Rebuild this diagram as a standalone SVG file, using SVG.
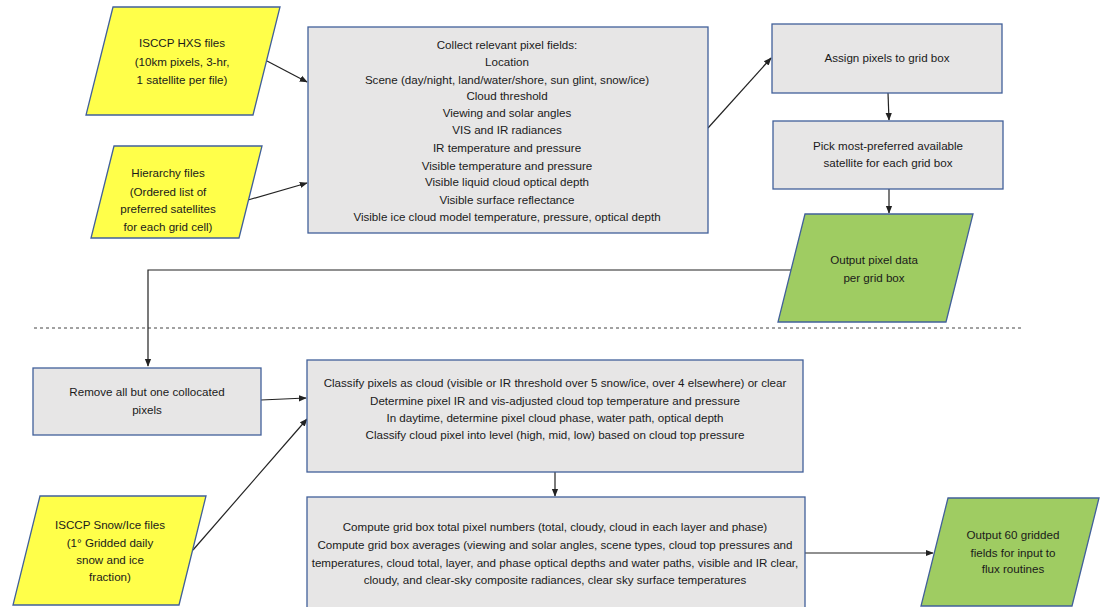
<svg xmlns="http://www.w3.org/2000/svg" width="1102" height="607" viewBox="0 0 1102 607">
<defs>
<style>
.box{fill:#e7e6e6;stroke:#41609a;stroke-width:1.3}
.in{fill:#ffff4a;stroke:#41609a;stroke-width:1.3}
.out{fill:#9fcc62;stroke:#41609a;stroke-width:1.3}
.t{font-family:"Liberation Sans",Arial,sans-serif;font-size:11.6px;fill:#1a1a1a;text-anchor:middle}
.c{fill:none;stroke:#222;stroke-width:1.2}
</style>
<marker id="ah" viewBox="0 0 10 10" refX="9" refY="5" markerWidth="8" markerHeight="8" markerUnits="userSpaceOnUse" orient="auto">
<path d="M0,1 L10,5 L0,9 z" fill="#222"/>
</marker>
</defs>
<rect width="1102" height="607" fill="#fff"/>
<line x1="34" y1="328" x2="1022" y2="328" stroke="#444" stroke-width="1" stroke-dasharray="3,3"/>
<g id="connectors">
<line class="c" x1="267" y1="61" x2="307" y2="82" marker-end="url(#ah)"/>
<line class="c" x1="248" y1="200" x2="307" y2="183" marker-end="url(#ah)"/>
<line class="c" x1="708" y1="128" x2="771" y2="58" marker-end="url(#ah)"/>
<line class="c" x1="888" y1="93" x2="889" y2="120" marker-end="url(#ah)"/>
<line class="c" x1="889" y1="189" x2="889" y2="213" marker-end="url(#ah)"/>
<polyline class="c" points="791,270 148,270 148,366" marker-end="url(#ah)"/>
<line class="c" x1="261" y1="400" x2="306" y2="398" marker-end="url(#ah)"/>
<line class="c" x1="193" y1="550" x2="307" y2="419" marker-end="url(#ah)"/>
<line class="c" x1="555" y1="472" x2="555" y2="496" marker-end="url(#ah)"/>
<line class="c" x1="805" y1="553" x2="933" y2="553" marker-end="url(#ah)"/>
</g>
<g id="hxs">
<polygon class="in" points="113,7 280,7 253,115 86,115"/>
<text class="t" x="182" y="47">ISCCP HXS files</text>
<text class="t" x="182" y="66">(10km pixels, 3-hr,</text>
<text class="t" x="182" y="84">1 satellite per file)</text>
</g>
<g id="hierarchy">
<polygon class="in" points="114,146 262,146 239,238 91,238"/>
<text class="t" x="168" y="177">Hierarchy files</text>
<text class="t" x="168" y="196">(Ordered list of</text>
<text class="t" x="168" y="213">preferred satellites</text>
<text class="t" x="168" y="231">for each grid cell)</text>
</g>
<g id="collect">
<rect class="box" x="308" y="27" width="400" height="206"/>
<text class="t" x="507" y="49">Collect relevant pixel fields:</text>
<text class="t" x="507" y="66">Location</text>
<text class="t" x="507" y="84">Scene (day/night, land/water/shore, sun glint, snow/ice)</text>
<text class="t" x="507" y="100">Cloud threshold</text>
<text class="t" x="507" y="117">Viewing and solar angles</text>
<text class="t" x="507" y="134">VIS and IR radiances</text>
<text class="t" x="507" y="152">IR temperature and pressure</text>
<text class="t" x="507" y="170">Visible temperature and pressure</text>
<text class="t" x="507" y="186">Visible liquid cloud optical depth</text>
<text class="t" x="507" y="204">Visible surface reflectance</text>
<text class="t" x="507" y="221">Visible ice cloud model temperature, pressure, optical depth</text>
</g>
<g id="assign">
<rect class="box" x="772" y="24" width="230" height="69"/>
<text class="t" x="887" y="62">Assign pixels to grid box</text>
</g>
<g id="pick">
<rect class="box" x="773" y="121" width="230" height="68"/>
<text class="t" x="888" y="150">Pick most-preferred available</text>
<text class="t" x="888" y="167">satellite for each grid box</text>
</g>
<g id="outpixel">
<polygon class="out" points="805,214 973,214 946,322 778,322"/>
<text class="t" x="874" y="264">Output pixel data</text>
<text class="t" x="874" y="282">per grid box</text>
</g>
<g id="remove">
<rect class="box" x="33" y="368" width="228" height="67"/>
<text class="t" x="147" y="396">Remove all but one collocated</text>
<text class="t" x="147" y="414">pixels</text>
</g>
<g id="classify">
<rect class="box" x="307" y="360" width="496" height="112"/>
<text class="t" x="555" y="387">Classify pixels as cloud (visible or IR threshold over 5 snow/ice, over 4 elsewhere) or clear</text>
<text class="t" x="555" y="405">Determine pixel IR and vis-adjusted cloud top temperature and pressure</text>
<text class="t" x="555" y="422">In daytime, determine pixel cloud phase, water path, optical depth</text>
<text class="t" x="555" y="439">Classify cloud pixel into level (high, mid, low) based on cloud top pressure</text>
</g>
<g id="snowice">
<polygon class="in" points="40,496 206,496 179,605 13,605"/>
<text class="t" x="110" y="529">ISCCP Snow/Ice files</text>
<text class="t" x="110" y="547">(1° Gridded daily</text>
<text class="t" x="110" y="564">snow and ice</text>
<text class="t" x="110" y="581">fraction)</text>
</g>
<g id="compute">
<rect class="box" x="307" y="497" width="498" height="120"/>
<text class="t" x="555" y="531">Compute grid box total pixel numbers (total, cloudy, cloud in each layer and phase)</text>
<text class="t" x="555" y="549">Compute grid box averages (viewing and solar angles, scene types, cloud top pressures and</text>
<text class="t" x="555" y="567">temperatures, cloud total, layer, and phase optical depths and water paths, visible and IR clear,</text>
<text class="t" x="555" y="584">cloudy, and clear-sky composite radiances, clear sky surface temperatures</text>
</g>
<g id="out60">
<polygon class="out" points="948,498 1099,498 1072,606 921,606"/>
<text class="t" x="1013" y="539">Output 60 gridded</text>
<text class="t" x="1013" y="557">fields for input to</text>
<text class="t" x="1013" y="573">flux routines</text>
</g>
</svg>
